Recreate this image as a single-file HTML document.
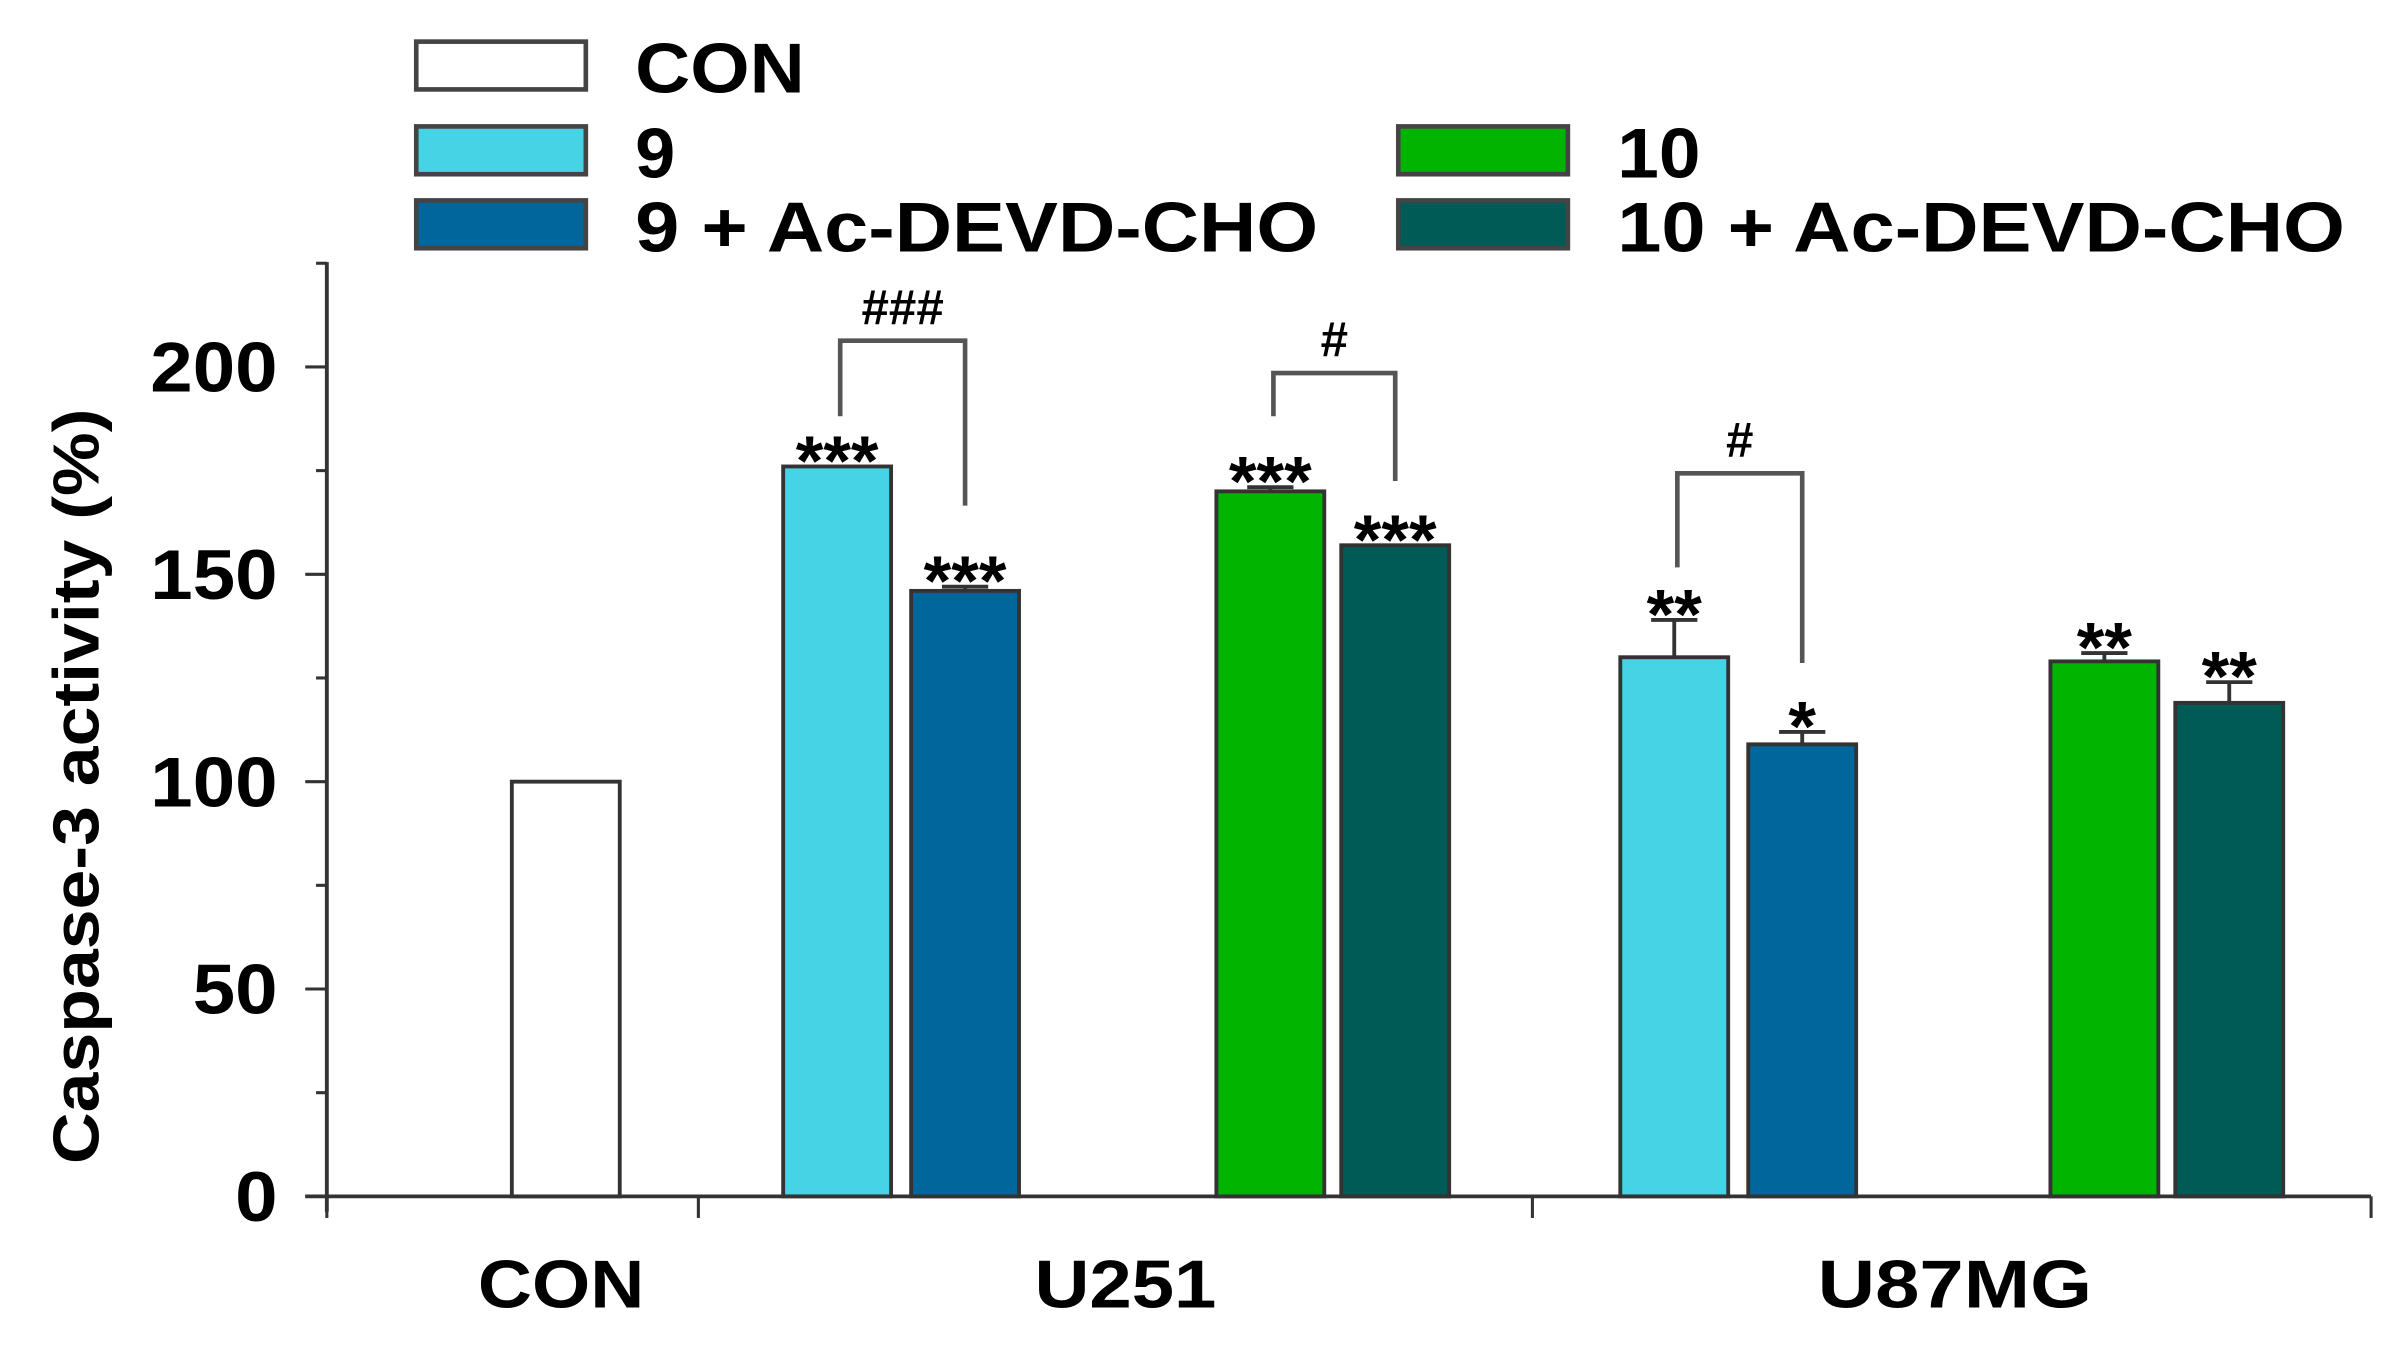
<!DOCTYPE html>
<html><head><meta charset="utf-8"><style>
html,body{margin:0;padding:0;background:#fff;}
svg{display:block;}
text{font-family:"Liberation Sans",Arial,sans-serif;font-weight:bold;fill:#000;}
</style></head><body>
<svg id="chart" width="2405" height="1345" viewBox="0 0 1560 872.4" preserveAspectRatio="none" xmlns="http://www.w3.org/2000/svg">
<g id="legend"></g>
<g id="axes"></g>
<g id="bars"></g>
<g id="annot"></g>
<text transform="translate(64,510) rotate(-90)" text-anchor="middle" font-size="42" textLength="490" lengthAdjust="spacingAndGlyphs">Caspase-3 activity (%)</text>
</svg>
<script>
const categories = ["CON","U251","U87MG"];
const seriesNames = ["CON","9","9 + Ac-DEVD-CHO","10","10 + Ac-DEVD-CHO"];
const barValues = [100,176,146,170,157,130,109,129,119];
const barErrors = [0,0,1,1,0,9,3,2,5];
const barSeries = [0,1,2,3,4,1,2,3,4];
const barStars = ["","***","***","***","***","**","*","**","**"];
const yTicks = [0,50,100,150,200];
const barLeftPx = [332,508,591,789,870,1051,1134,1330,1411];
const colors = ["#ffffff","#45d3e5","#00669c","#00b400","#005a55"];
const NS="http://www.w3.org/2000/svg";
function el(tag,attrs,parent){const e=document.createElementNS(NS,tag);for(const k in attrs)e.setAttribute(k,attrs[k]);parent.appendChild(e);return e;}
const y0=776, yPer=(776-238)/200;
function yScale(v){return y0-v*yPer;}
const axes=document.getElementById('axes');
let l=el('line',{x1:212,y1:170,x2:212,y2:786,stroke:'#333','stroke-width':2.5},axes);


l=el('line',{x1:198,y1:776,x2:1538,y2:776,stroke:'#333','stroke-width':2.5},axes);


for(let v=0;v<=225;v+=25){
  const t=el('line',{x1:v%50===0?198:205,y1:yScale(v),x2:212,y2:yScale(v),stroke:'#333','stroke-width':2},axes);
  
  
}
yTicks.forEach(v=>{
  const t=el('text',{x:180,y:yScale(v)+16,'text-anchor':'end','font-size':46,textLength:String(v).length*27.5,lengthAdjust:'spacingAndGlyphs'},axes);
  t.textContent=v;
  
  
});
[212,453,994,1538].forEach(x=>{
  const t=el('line',{x1:x,y1:776,x2:x,y2:790,stroke:'#333','stroke-width':2},axes);
  
  
});
const catX=[364,730,1268];
const catW=[108,118,178];
categories.forEach((c,i)=>{
  const t=el('text',{x:catX[i],y:848,'text-anchor':'middle','font-size':44,textLength:catW[i],lengthAdjust:'spacingAndGlyphs'},axes);
  t.textContent=c;
  
  
});
const bars=document.getElementById('bars'), annot=document.getElementById('annot');
const bw=70;
barValues.forEach((v,i)=>{
  const x=barLeftPx[i], top=yScale(v);
  const r=el('rect',{x:x,y:top,width:bw,height:y0-top,fill:colors[barSeries[i]],stroke:'#333','stroke-width':2.5},bars);
  
  
  const cx=x+bw/2;
  if(barErrors[i]>0){
    const et=yScale(v+barErrors[i]);
    el('line',{x1:cx,y1:top,x2:cx,y2:et,stroke:'#333','stroke-width':2.5},bars);
    const cap=el('line',{x1:cx-15,y1:et,x2:cx+15,y2:et,stroke:'#333','stroke-width':2.5},bars);
    
    
  }
  if(barStars[i]){
    const s=el('text',{x:cx,y:yScale(v+barErrors[i])+12,'text-anchor':'middle','font-size':46},annot);
    s.textContent=barStars[i];
    
    
  }
});
const brackets=[[1,2,"###",221,270,328],[3,4,"#",242,270,312],[5,6,"#",307,368,430]];
brackets.forEach(b=>{
  const x1=barLeftPx[b[0]]+bw/2+2, x2=barLeftPx[b[1]]+bw/2;
  const p=el('path',{d:`M${x1},${b[4]} V${b[3]} H${x2} V${b[5]}`,fill:'none',stroke:'#555','stroke-width':3},annot);
  
  
  const t=el('text',{x:(x1+x2)/2,y:b[3]-11,'text-anchor':'middle','font-size':32},annot);
  t.textContent=b[2];
  
  
});
const legend=document.getElementById('legend');
const legPos=[[270,27],[270,82],[270,130],[907,82],[907,130]];
const legW=[110,26,443,54,472];
seriesNames.forEach((n,i)=>{
  const [x,y]=legPos[i];
  const r=el('rect',{x:x,y:y,width:110,height:31,fill:colors[i],stroke:'#444','stroke-width':3},legend);
  
  
  const t=el('text',{x:x+142,y:y+33,'font-size':46,textLength:legW[i],lengthAdjust:'spacingAndGlyphs'},legend);
  t.textContent=n;
  
  
});
</script>
</body></html>
